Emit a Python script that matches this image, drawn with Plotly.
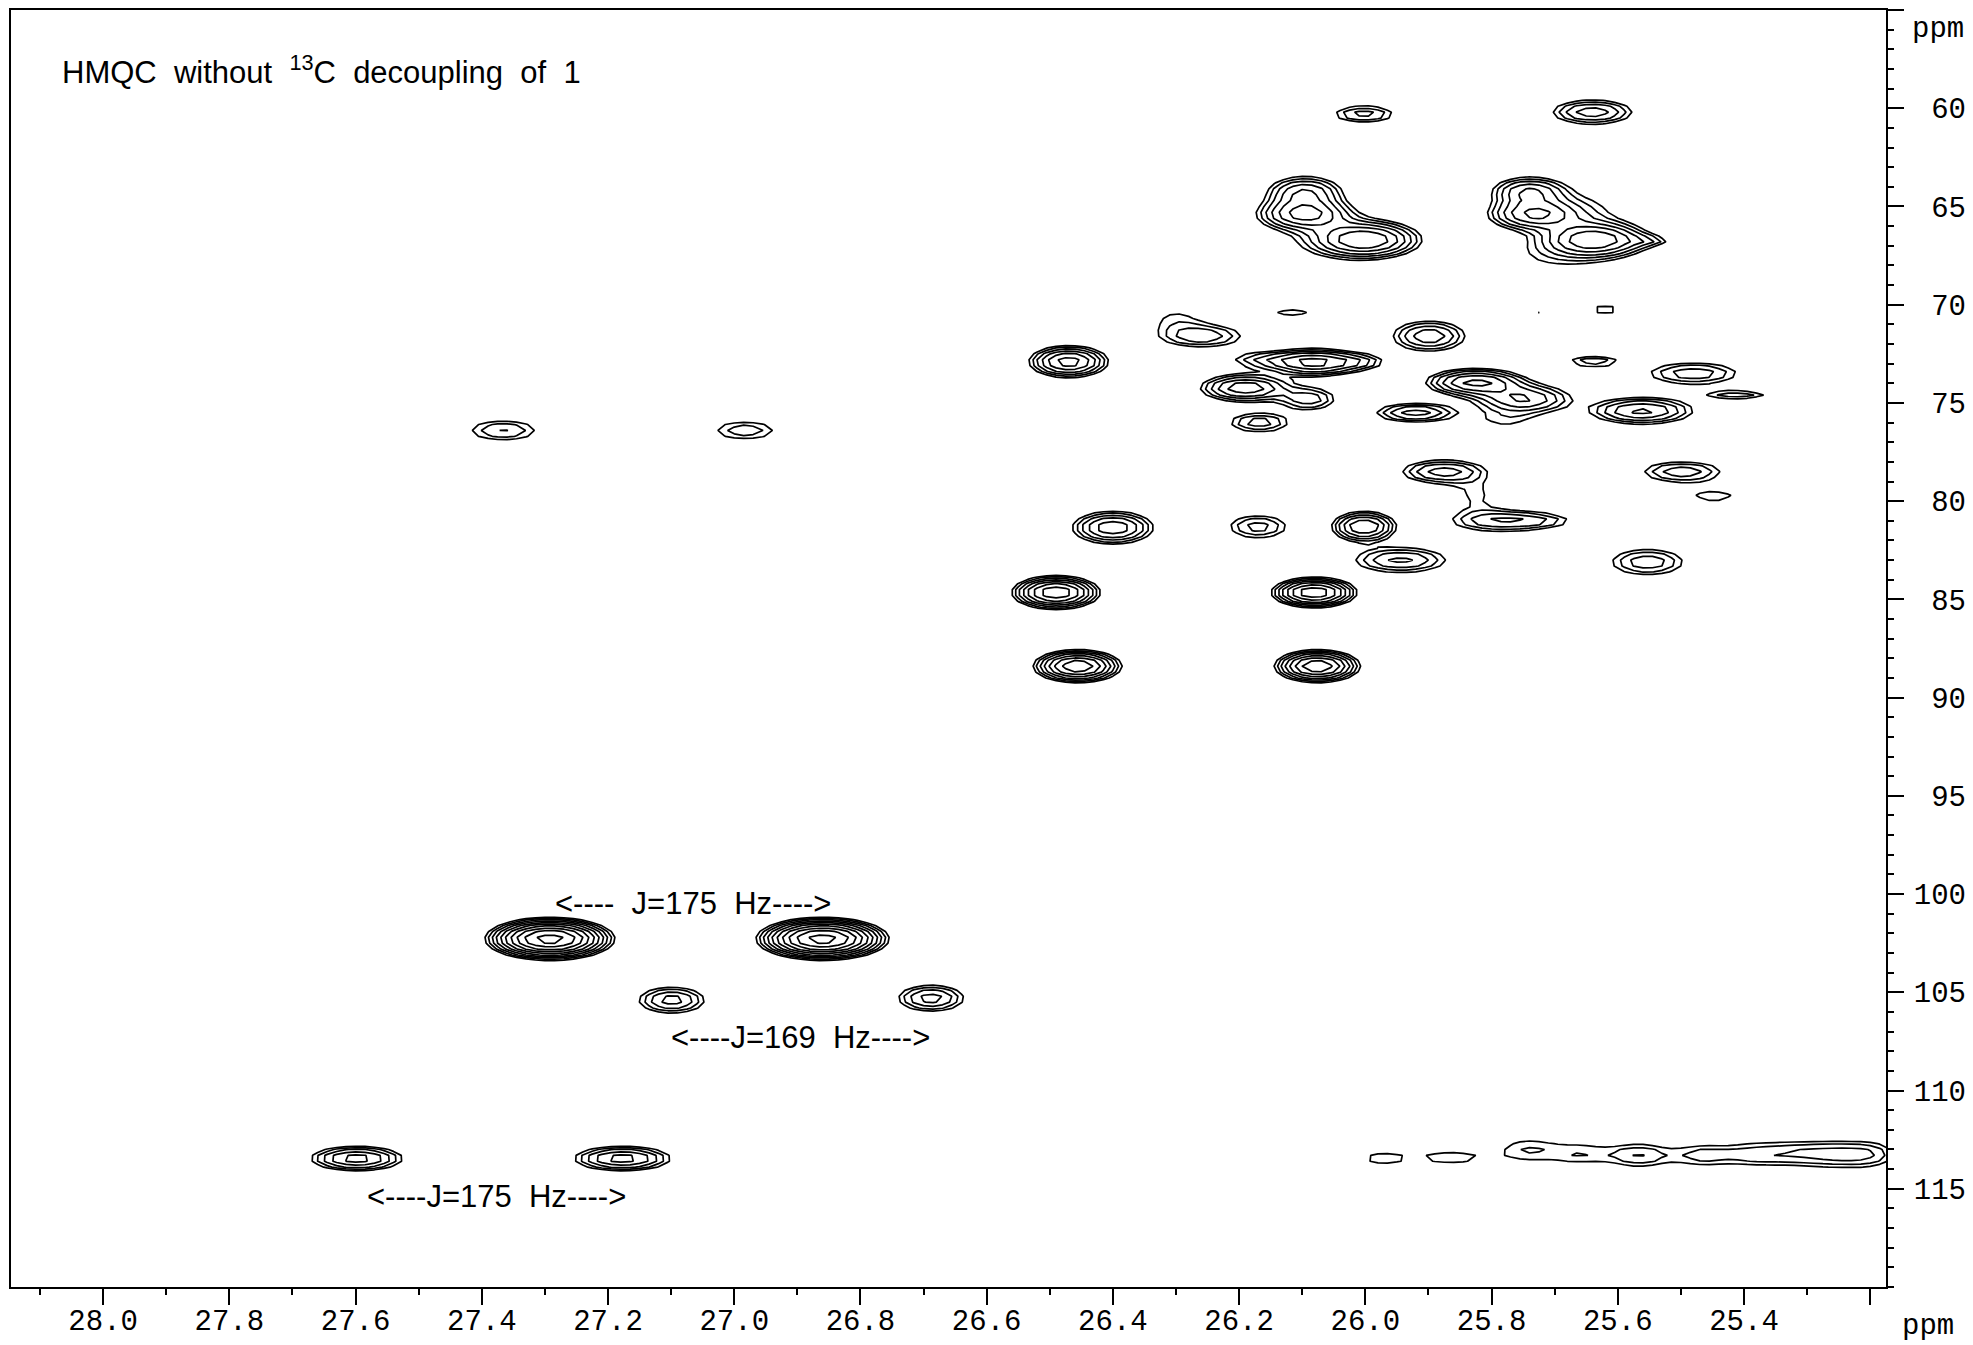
import numpy as np
import plotly.graph_objects as go

# ---- peak table (ppm, intensity in units of the lowest contour level)
peak_x = [26.002, 25.640,
          26.096, 26.096, 26.000, 26.050,
          25.740, 25.732, 25.637, 25.660, 25.550, 25.700,
          26.116, 25.728, 25.620, 26.260, 26.300, 25.899,
          26.470, 26.081, 26.160, 26.010, 26.190, 26.090, 26.168, 25.638, 25.480, 25.412,
          25.825, 25.750, 25.780, 25.920, 25.562,
          25.876, 25.498, 25.448, 25.825, 25.790, 25.720, 26.400, 26.170, 26.002,
          25.944, 25.553, 26.490, 26.081, 26.456, 26.076,
          27.366, 26.983, 27.292, 26.860, 27.099, 26.688, 27.598, 27.177,
          25.975, 25.865, 25.745, 25.660, 25.565, 25.470, 25.390, 25.320, 25.250, 25.195]
peak_y = [60.3, 60.2,
          64.3, 65.4, 66.7, 66.5,
          64.25, 65.4, 66.7, 65.3, 66.75, 67.5,
          70.4, 70.4, 70.25, 71.6, 70.7, 71.6,
          72.9, 72.94, 72.8, 72.9, 74.24, 74.8, 76.0, 72.88, 73.5, 74.6,
          73.95, 74.8, 75.9, 75.5, 75.4,
          78.5, 78.5, 79.75, 79.7, 81.0, 81.0, 81.35, 81.3, 81.3,
          83.0, 83.1, 84.65, 84.65, 88.4, 88.4,
          76.4, 76.4, 102.28, 102.28, 105.4, 105.3, 113.46, 113.46,
          113.46, 113.4, 113.0, 113.2, 113.3, 113.3, 113.25, 113.2, 113.25, 113.25]
peak_wx = [0.035, 0.040,
           0.035, 0.040, 0.045, 0.060,
           0.035, 0.040, 0.045, 0.050, 0.025, 0.060,
           0.040, 0.012, 0.040, 0.045, 0.035, 0.036,
           0.033, 0.040, 0.040, 0.030, 0.040, 0.030, 0.034, 0.032, 0.050, 0.040,
           0.042, 0.045, 0.040, 0.040, 0.048,
           0.042, 0.044, 0.047, 0.030, 0.050, 0.040, 0.036, 0.034, 0.028,
           0.048, 0.041, 0.033, 0.032, 0.033, 0.032,
           0.042, 0.040, 0.041, 0.042, 0.034, 0.034, 0.042, 0.044,
           0.030, 0.050, 0.035, 0.040, 0.035, 0.035, 0.040, 0.040, 0.040, 0.030]
peak_wy = [0.33, 0.40,
           0.50, 0.45, 0.50, 0.80,
           0.45, 0.45, 0.50, 0.80, 0.20, 0.70,
           0.33, 0.15, 0.30, 0.40, 0.50, 0.49,
           0.43, 0.38, 0.30, 0.30, 0.40, 0.40, 0.36, 0.25, 0.40, 0.22,
           0.38, 0.45, 0.35, 0.32, 0.41,
           0.39, 0.38, 0.40, 0.65, 0.38, 0.30, 0.47, 0.44, 0.43,
           0.43, 0.48, 0.41, 0.37, 0.40, 0.40,
           0.42, 0.40, 0.44, 0.44, 0.44, 0.44, 0.37, 0.37,
           0.35, 0.39, 0.55, 0.50, 0.48, 0.48, 0.50, 0.50, 0.50, 0.50]
peak_height = [2.3, 3.4,
               4.0, 6.0, 7.0, 1.0,
               4.0, 5.5, 7.0, 1.2, 1.3, 1.0,
               1.2, 1.03, 1.2, 2.6, 1.1, 3.5,
               6.4, 6.0, 1.8, 1.8, 5.0, 2.5, 2.4, 1.9, 2.5, 1.8,
               6.0, 4.0, 1.1, 3.3, 4.2,
               3.3, 2.5, 1.2, 1.12, 2.6, 1.3, 5.0, 2.3, 5.5,
               3.0, 2.5, 10.0, 10.0, 10.0, 10.0,
               2.0, 1.8, 24.0, 24.0, 3.2, 3.2, 4.5, 4.5,
               1.25, 1.3, 1.3, 1.35, 1.9, 1.45, 1.4, 1.4, 1.9, 1.3]

x_tick_vals = [28.0, 27.8, 27.6, 27.4, 27.2, 27.0, 26.8, 26.6, 26.4, 26.2, 26.0, 25.8, 25.6, 25.4, 25.2]
x_tick_text = ["28.0", "27.8", "27.6", "27.4", "27.2", "27.0", "26.8", "26.6", "26.4", "26.2",
               "26.0", "25.8", "25.6", "25.4", ""]
y_tick_vals = [55, 60, 65, 70, 75, 80, 85, 90, 95, 100, 105, 110, 115]
y_tick_text = ["", "\u00a060", "\u00a065", "\u00a070", "\u00a075", "\u00a080", "\u00a085", "\u00a090",
               "\u00a095", "100", "105", "110", "115"]

title_text = "HMQC\u00a0\u00a0without\u00a0\u00a0<sup>13</sup>C\u00a0\u00a0decoupling\u00a0\u00a0of\u00a0\u00a01"
label_text = ["&lt;----\u00a0\u00a0J=175\u00a0\u00a0Hz----&gt;",
              "&lt;----J=169\u00a0\u00a0Hz----&gt;",
              "&lt;----J=175\u00a0\u00a0Hz----&gt;"]
label_x = [27.065, 26.895, 27.376]
label_y = [100.5, 107.3, 115.37]

# ---- sampled 2D spectrum on a coarse grid
xs = np.arange(25.17, 28.16, 0.015)
ys = np.arange(54.8, 120.3, 0.3)
X, Y = np.meshgrid(xs, ys)
Z = np.zeros_like(X)
for px, py, sx, sy, a in zip(peak_x, peak_y, peak_wx, peak_wy, peak_height):
    Z += a * np.exp(-((X - px) ** 2 / (2 * sx ** 2) + (Y - py) ** 2 / (2 * sy ** 2)))
logZ = np.log(np.maximum(Z, 1e-8))

factor = 1.4
fig = go.Figure()
fig.add_trace(go.Contour(
    x=xs, y=ys, z=logZ,
    autocontour=False,
    contours=dict(start=0.0, end=float(np.log(40)), size=float(np.log(factor)), coloring="lines"),
    colorscale=[[0, "black"], [1, "black"]],
    line=dict(width=1.7, smoothing=0),
    showscale=False, hoverinfo="skip",
))

axis_font = dict(family="Liberation Mono, DejaVu Sans Mono, monospace", size=29, color="black")
fig.update_xaxes(
    range=[28.146, 25.175], tickmode="array", tickvals=x_tick_vals, ticktext=x_tick_text,
    ticks="outside", ticklen=16, tickwidth=1.5, tickcolor="black",
    showline=True, linewidth=2, linecolor="black", mirror=True, automargin=False,
    showgrid=False, zeroline=False, tickfont=axis_font, ticklabelstandoff=-10,
    minor=dict(ticks="outside", ticklen=6, tickwidth=1.5, tickcolor="black",
               tickmode="linear", tick0=0, dtick=0.1, showgrid=False),
)
fig.update_yaxes(
    range=[120, 55], side="right", tickmode="array", tickvals=y_tick_vals, ticktext=y_tick_text,
    ticks="outside", ticklen=16, tickwidth=1.5, tickcolor="black",
    showline=True, linewidth=2, linecolor="black", mirror=True, automargin=False,
    showgrid=False, zeroline=False, tickfont=axis_font, ticklabelstandoff=4,
    minor=dict(ticks="outside", ticklen=6, tickwidth=1.5, tickcolor="black",
               tickmode="linear", tick0=0, dtick=1, showgrid=False),
)

text_font = dict(family="Liberation Sans, Arial, sans-serif", size=31, color="black")
annotations = [dict(text=title_text, xref="paper", yref="paper", x=0.0261, y=0.953,
                    xanchor="left", yanchor="middle", showarrow=False, font=text_font)]
for t, lx, ly in zip(label_text, label_x, label_y):
    annotations.append(dict(text=t, x=lx, y=ly, xref="x", yref="y", xanchor="center",
                            yanchor="middle", showarrow=False, font=text_font))
annotations.append(dict(text="ppm", xref="paper", yref="paper", x=1.0224, y=-0.031,
                        xanchor="center", yanchor="middle", showarrow=False, font=axis_font))
annotations.append(dict(text="ppm", xref="paper", yref="paper", x=1.0275, y=0.985,
                        xanchor="center", yanchor="middle", showarrow=False, font=axis_font))

fig.update_layout(
    width=1973, height=1345, margin=dict(l=11, r=87, t=10, b=58),
    plot_bgcolor="white", paper_bgcolor="white", showlegend=False,
    annotations=annotations,
)
fig.write_html("out.html")
